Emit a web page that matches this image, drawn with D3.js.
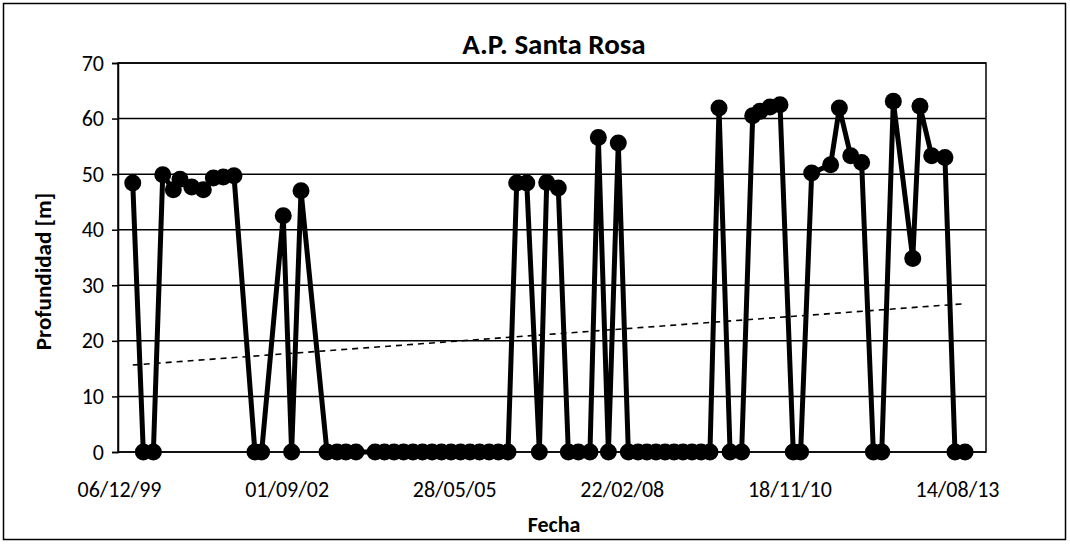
<!DOCTYPE html>
<html><head><meta charset="utf-8">
<script src="https://cdn.jsdelivr.net/npm/d3@7"></script>
<style>body{margin:0;background:#fff}svg{display:block}text{font-family:Carlito,Calibri,Lato,"Liberation Sans",sans-serif;fill:#000}</style>
</head><body><svg id="c" width="1070" height="544"></svg>
<script>
const title = "A.P. Santa Rosa";
const xTitle = "Fecha";
const yTitle = "Profundidad [m]";
const xTickLabels = ["06/12/99","01/09/02","28/05/05","22/02/08","18/11/10","14/08/13"];
const yTicks = [0,10,20,30,40,50,60,70];
const xDomain = ["1999-11-30","2014-02-03"];
const dates = [
"2000-02-26","2000-04-29","2000-06-28","2000-08-23","2000-10-25","2000-12-04","2001-02-12","2001-04-22","2001-06-21","2001-08-19",
"2001-10-22","2002-02-24","2002-04-05","2002-08-12","2002-10-01","2002-11-26","2003-04-30","2003-06-29","2003-08-21","2003-10-20",
"2004-02-11","2004-04-07","2004-06-03","2004-07-30","2004-09-24","2004-11-20","2005-01-16","2005-03-13","2005-05-09","2005-07-05",
"2005-08-30","2005-10-26","2005-12-22","2006-02-16","2006-04-14","2006-06-05","2006-08-04","2006-10-18","2006-12-01","2007-02-08",
"2007-04-09","2007-06-08","2007-08-16","2007-10-05","2007-12-04","2008-02-01","2008-04-01","2008-05-29","2008-07-21","2008-09-13",
"2008-11-06","2008-12-30","2009-02-21","2009-04-16","2009-06-09","2009-08-01","2009-09-24","2009-11-29","2010-02-06","2010-04-13",
"2010-05-26","2010-07-25","2010-09-23","2010-12-11","2011-01-24","2011-03-31","2011-07-22","2011-09-12","2011-11-19","2012-01-23",
"2012-04-02","2012-05-22","2012-07-30","2012-11-23","2013-01-05","2013-03-16","2013-06-03","2013-08-02","2013-10-01"];
const depth = [
48.4,0,0,49.9,47.2,49.1,47.7,47.2,49.3,49.5,
49.7,0,0,42.5,0,47.0,0,0,0,0,
0,0,0,0,0,0,0,0,0,0,
0,0,0,0,0,48.4,48.4,0,48.5,47.5,
0,0,0,56.6,0,55.6,0,0,0,0,
0,0,0,0,0,0,61.9,0,0,60.5,
61.3,62.1,62.5,0,0,50.2,51.7,61.9,53.3,52.1,
0,0,63.1,34.8,62.2,53.3,53.0,0,0];

const parseISO = d3.timeParse("%Y-%m-%d");
const parseTick = d3.timeParse("%d/%m/%y");
const data = dates.map((d,i)=>({date:parseISO(d), v:depth[i]}));

const svg = d3.select("#c");
const L=118, R=986, T=63, B=452;
const x = d3.scaleTime().domain(xDomain.map(parseISO)).range([L,R]);
const y = d3.scaleLinear().domain([0,70]).range([B,T]);

svg.append("rect").attr("x",3.5).attr("y",3.5).attr("width",1062).attr("height",536)
  .attr("fill","#fff").attr("stroke","#000").attr("stroke-width",1.5);

svg.append("g").selectAll("line").data(yTicks).join("line")
  .attr("x1",L).attr("x2",R).attr("y1",d=>y(d)).attr("y2",d=>y(d))
  .attr("stroke","#000").attr("stroke-width",1.5);
svg.append("rect").attr("x",L).attr("y",T).attr("width",R-L).attr("height",B-T)
  .attr("fill","none").attr("stroke","#000").attr("stroke-width",1.5);

const ya = svg.append("g").attr("transform",`translate(${L},0)`)
  .call(d3.axisLeft(y).tickValues(yTicks).tickSize(6).tickPadding(8));
ya.select(".domain").attr("stroke","#000").attr("stroke-width",1.5);
ya.selectAll(".tick line").attr("stroke","#000").attr("stroke-width",1.5);
ya.selectAll("text").style("font-size","22px").attr("font-family",null);

const xa = svg.append("g").attr("transform",`translate(0,${B})`)
  .call(d3.axisBottom(x).tickValues(xTickLabels.map(parseTick)).tickSize(0).tickPadding(29)
    .tickFormat(d3.timeFormat("%d/%m/%y")));
xa.select(".domain").remove();
xa.selectAll("text").style("font-size","22px").attr("font-family",null);

// trendline (least squares on date vs depth)
const xs = data.map(d=>+d.date), ys = data.map(d=>d.v);
const mx = d3.mean(xs), my = d3.mean(ys);
const slope = d3.sum(xs.map((t,i)=>(t-mx)*(ys[i]-my))) / d3.sum(xs.map(t=>(t-mx)*(t-mx)));
const icpt = my - slope*mx;
const ends = [data[0].date, data[data.length-1].date];
svg.append("line")
  .attr("x1",x(ends[0])).attr("y1",y(icpt+slope*(+ends[0])))
  .attr("x2",x(ends[1])).attr("y2",y(icpt+slope*(+ends[1])))
  .attr("stroke","#000").attr("stroke-width",1.6).attr("stroke-dasharray","6,5");

svg.append("path").datum(data)
  .attr("d",d3.line().x(d=>x(d.date)).y(d=>y(d.v)))
  .attr("fill","none").attr("stroke","#000").attr("stroke-width",5).attr("stroke-linejoin","miter");
svg.append("g").selectAll("circle").data(data).join("circle")
  .attr("cx",d=>x(d.date)).attr("cy",d=>y(d.v)).attr("r",8.5).attr("fill","#000");

svg.append("text").attr("x",(L+R)/2+2).attr("y",54).attr("text-anchor","middle")
  .style("font-size","29px").style("font-weight","bold").text(title);
svg.append("text").attr("x",(L+R)/2+2).attr("y",532).attr("text-anchor","middle")
  .style("font-size","22px").style("font-weight","bold").text(xTitle);
svg.append("text").attr("transform",`translate(51,${(T+B)/2+14}) rotate(-90)`).attr("text-anchor","middle")
  .style("font-size","23px").style("font-weight","bold").text(yTitle);
</script></body></html>
